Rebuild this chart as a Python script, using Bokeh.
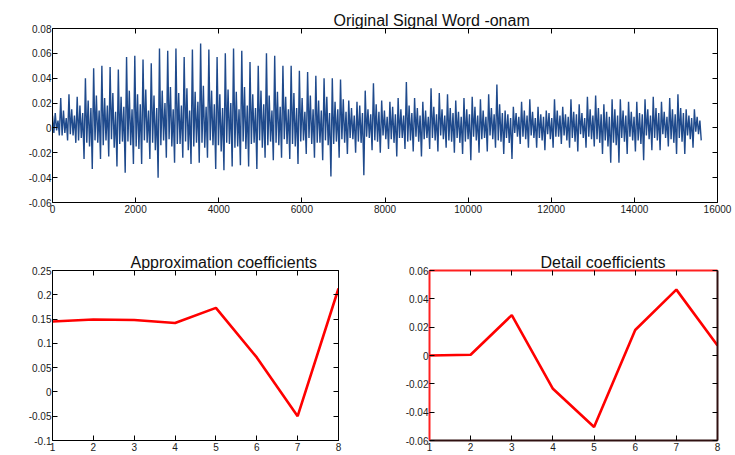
import numpy as np
from bokeh.plotting import figure
from bokeh.models import LinearAxis, FixedTicker, CustomJSTickFormatter, Range1d
from bokeh.layouts import column, row
from bokeh.embed import file_html
from bokeh.resources import INLINE

# ---------------- data ----------------
# Top panel: speech signal, described per pitch cycle
SAMPLE_STEP = 33          # samples between successive points
cycle_peak = [0.010, 0.024, 0.027, 0.025, 0.040, 0.048, 0.050, 0.049, 0.047, 0.057,
              0.058, 0.055, 0.052, 0.064, 0.062, 0.064, 0.057, 0.063, 0.068, 0.063,
              0.057, 0.060, 0.064, 0.062, 0.053, 0.050, 0.060, 0.058, 0.050, 0.050,
              0.046, 0.045, 0.042, 0.040, 0.040, 0.039, 0.022, 0.021, 0.030, 0.036,
              0.022, 0.021, 0.024, 0.037, 0.024, 0.021, 0.032, 0.028, 0.027, 0.022,
              0.024, 0.025, 0.023, 0.027, 0.035, 0.014, 0.017, 0.021, 0.023, 0.017,
              0.014, 0.023, 0.017, 0.023, 0.019, 0.025, 0.026, 0.019, 0.023, 0.023,
              0.021, 0.021, 0.023, 0.025, 0.021, 0.024, 0.027, 0.015, 0.015]
cycle_dip = [-0.004, -0.006, -0.005, -0.010, -0.012, -0.010, -0.014, -0.009, -0.013, -0.011,
             -0.015, -0.010, -0.012, -0.014, -0.009, -0.013, -0.011, -0.015, -0.012, -0.010,
             -0.014, -0.012, -0.016, -0.011, -0.013, -0.010, -0.014, -0.012, -0.009, -0.013,
             -0.011, -0.008, -0.012, -0.010, -0.013, -0.009, -0.008, -0.011, -0.007, -0.010,
             -0.006, -0.009, -0.008, -0.011, -0.007, -0.009, -0.008, -0.006, -0.010, -0.008,
             -0.011, -0.007, -0.009, -0.006, -0.010, -0.008, -0.004, -0.007, -0.006, -0.008,
             -0.005, -0.007, -0.006, -0.008, -0.005, -0.007, -0.009, -0.010, -0.012, -0.008,
             -0.007, -0.010, -0.006, -0.008, -0.005, -0.009, -0.008, -0.006, -0.003]
cycle_bump = [0.012, 0.014, 0.015, 0.018, 0.022, 0.026, 0.024, 0.028, 0.025, 0.030,
              0.027, 0.031, 0.026, 0.030, 0.033, 0.028, 0.032, 0.029, 0.034, 0.030,
              0.027, 0.031, 0.029, 0.033, 0.027, 0.030, 0.026, 0.029, 0.025, 0.028,
              0.024, 0.026, 0.022, 0.025, 0.021, 0.023, 0.016, 0.018, 0.015, 0.019,
              0.014, 0.017, 0.015, 0.018, 0.016, 0.014, 0.017, 0.015, 0.016, 0.013,
              0.015, 0.017, 0.014, 0.016, 0.019, 0.011, 0.012, 0.014, 0.013, 0.011,
              0.012, 0.014, 0.011, 0.013, 0.012, 0.015, 0.016, 0.013, 0.015, 0.014,
              0.013, 0.012, 0.015, 0.016, 0.013, 0.015, 0.016, 0.010, 0.009]
cycle_notch = [-0.002, -0.004, -0.006, -0.008, -0.015, -0.012, -0.010, -0.016, -0.011, -0.014,
               -0.017, -0.012, -0.018, -0.010, -0.015, -0.013, -0.018, -0.012, -0.016, -0.014,
               -0.019, -0.013, -0.015, -0.017, -0.012, -0.016, -0.011, -0.014, -0.013, -0.015,
               -0.010, -0.013, -0.012, -0.014, -0.011, -0.012, -0.009, -0.012, -0.008, -0.011,
               -0.009, -0.012, -0.008, -0.010, -0.011, -0.008, -0.010, -0.009, -0.011, -0.012,
               -0.009, -0.010, -0.008, -0.009, -0.011, -0.012, -0.007, -0.009, -0.008, -0.010,
               -0.009, -0.007, -0.010, -0.011, -0.008, -0.009, -0.012, -0.015, -0.014, -0.011,
               -0.010, -0.013, -0.009, -0.010, -0.008, -0.012, -0.011, -0.009, -0.005]
cycle_bump2 = [0.006, 0.008, 0.010, 0.012, 0.016, 0.014, 0.018, 0.013, 0.017, 0.015,
               0.019, 0.014, 0.016, 0.020, 0.015, 0.018, 0.014, 0.021, 0.017, 0.019,
               0.016, 0.020, 0.015, 0.018, 0.016, 0.019, 0.014, 0.017, 0.015, 0.016,
               0.013, 0.015, 0.014, 0.012, 0.015, 0.013, 0.010, 0.012, 0.011, 0.013,
               0.009, 0.011, 0.010, 0.012, 0.010, 0.009, 0.011, 0.010, 0.012, 0.009,
               0.011, 0.010, 0.009, 0.011, 0.012, 0.008, 0.009, 0.010, 0.008, 0.009,
               0.008, 0.010, 0.009, 0.011, 0.008, 0.010, 0.011, 0.009, 0.010, 0.010,
               0.009, 0.011, 0.010, 0.012, 0.009, 0.011, 0.012, 0.008, 0.006]
cycle_trough = [-0.006, -0.010, -0.012, -0.025, -0.033, -0.025, -0.023, -0.031, -0.036, -0.029,
                -0.029, -0.025, -0.040, -0.024, -0.028, -0.024, -0.029, -0.028, -0.024, -0.033,
                -0.034, -0.031, -0.030, -0.031, -0.033, -0.024, -0.026, -0.024, -0.025, -0.029,
                -0.021, -0.024, -0.026, -0.039, -0.024, -0.021, -0.020, -0.038, -0.018, -0.020,
                -0.017, -0.023, -0.017, -0.019, -0.023, -0.017, -0.019, -0.016, -0.020, -0.021,
                -0.026, -0.020, -0.019, -0.016, -0.021, -0.025, -0.013, -0.016, -0.016, -0.018,
                -0.016, -0.013, -0.016, -0.019, -0.016, -0.015, -0.021, -0.028, -0.028, -0.021,
                -0.019, -0.026, -0.018, -0.018, -0.015, -0.021, -0.021, -0.016, -0.010]

signal_xticks = [0, 2000, 4000, 6000, 8000, 10000, 12000, 14000, 16000]
signal_yticks = [-0.06, -0.04, -0.02, 0, 0.02, 0.04, 0.06, 0.08]

# Bottom panels
coef_index = [1, 2, 3, 4, 5, 6, 7, 8]
approx_coef = [0.145, 0.149, 0.148, 0.142, 0.173, 0.071, -0.050, 0.213]
detail_coef = [0.000, 0.0005, 0.0285, -0.0235, -0.0505, 0.018, 0.0465, 0.007]
approx_yticks = [-0.1, -0.05, 0, 0.05, 0.1, 0.15, 0.2, 0.25]
detail_yticks = [-0.06, -0.04, -0.02, 0, 0.02, 0.04, 0.06]

# ---------------- build signal ----------------
signal = np.column_stack([cycle_peak, cycle_dip, cycle_bump, cycle_notch,
                          cycle_bump2, cycle_trough]).ravel()
sig_x = np.arange(len(signal)) * SAMPLE_STEP

FONT = "Liberation Sans"
FMT = "return String(parseFloat(tick.toFixed(4)));"
BLANK = "return '';"


def add_axes(p, xt, yt, left_color="black", top_color="black", other_color="black", lw=1):
    for side, ticks, show, color in [("below", xt, True, other_color),
                                     ("left", yt, True, left_color),
                                     ("above", xt, False, top_color),
                                     ("right", yt, False, other_color)]:
        ax = LinearAxis(ticker=FixedTicker(ticks=ticks),
                        formatter=CustomJSTickFormatter(code=FMT if show else BLANK),
                        major_tick_in=5, major_tick_out=0,
                        minor_tick_line_color=None,
                        axis_line_color=color, axis_line_width=lw,
                        major_tick_line_color="black",
                        major_label_text_font=FONT,
                        major_label_text_font_size="10px" if show else "1px",
                        major_label_text_color="#1a1a1a",
                        major_label_standoff=(2 if side == "below" else 1) if show else 0)
        p.add_layout(ax, side)


def set_title(p, text, offset):
    p.title.text = text
    p.title.align = "left"
    p.title.offset = offset
    p.title.text_font = FONT
    p.title.text_font_size = "16px"
    p.title.text_font_style = "normal"
    p.title.text_color = "#111"
    p.title.standoff = 0


# ---------------- top panel ----------------
p1 = figure(width=735, height=245, x_range=Range1d(0, 16000), y_range=Range1d(-0.06, 0.08),
            x_axis_type=None, y_axis_type=None, output_backend="svg", toolbar_location=None,
            min_border_left=52, min_border_right=18, min_border_top=28, min_border_bottom=43)
p1.grid.visible = False
p1.outline_line_color = None
p1.line(sig_x, signal, line_color="#1f4a8c", line_width=1.4)
add_axes(p1, signal_xticks, signal_yticks)
set_title(p1, "Original Signal Word -onam", 281)

# ---------------- bottom left ----------------
p2 = figure(width=370, height=210, x_range=Range1d(1, 8), y_range=Range1d(-0.1, 0.25),
            x_axis_type=None, y_axis_type=None, output_backend="svg", toolbar_location=None,
            min_border_left=52, min_border_right=32, min_border_top=24, min_border_bottom=15)
p2.grid.visible = False
p2.outline_line_color = None
p2.line(coef_index, approx_coef, line_color="#ff0000", line_width=2.6)
add_axes(p2, coef_index, approx_yticks)
set_title(p2, "Approximation coefficients", 78)

# ---------------- bottom right ----------------
p3 = figure(width=365, height=210, x_range=Range1d(1, 8), y_range=Range1d(-0.06, 0.06),
            x_axis_type=None, y_axis_type=None, output_backend="svg", toolbar_location=None,
            min_border_left=59, min_border_right=18, min_border_top=25, min_border_bottom=15)
p3.grid.visible = False
p3.outline_line_color = None
p3.line(coef_index, detail_coef, line_color="#ff0000", line_width=2.6)
add_axes(p3, coef_index, detail_yticks, left_color="#ff2020",
         top_color="#ff2020", other_color="#301010", lw=2)
set_title(p3, "Detail coefficients", 111)

layout = column(p1, row(p2, p3))
open("out.html", "w").write(file_html(layout, INLINE))
